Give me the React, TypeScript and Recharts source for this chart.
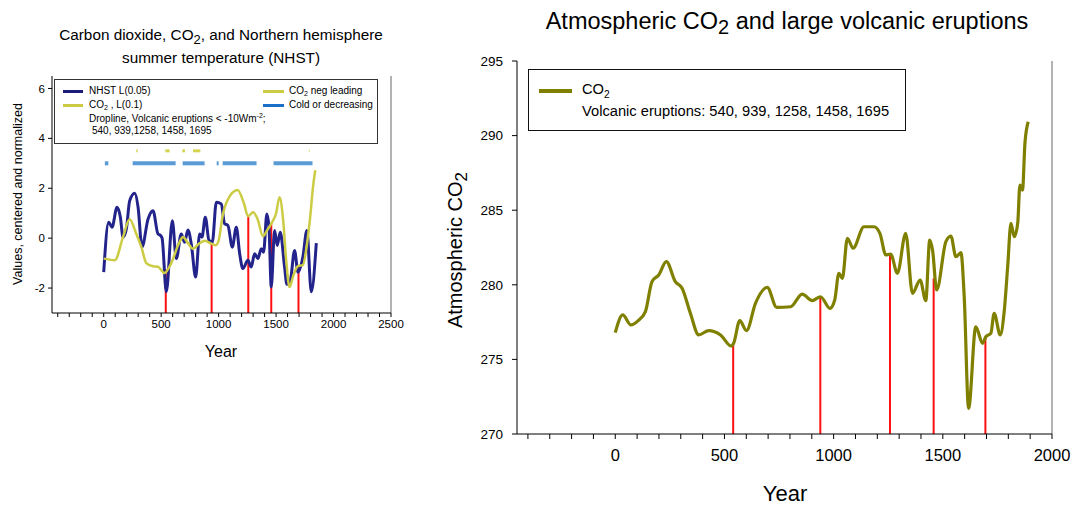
import React from "react";
import { LineChart, Line, XAxis, YAxis, ReferenceLine } from "recharts";

// NHST, loess L(0.05), centered and normalized
const nhstYears = [
  0, 43, 72, 116, 145, 168, 197, 226, 270, 299, 333, 386, 429, 472, 496, 508, 545, 597, 632, 675, 704, 733,
  762, 800, 835, 855, 884, 916, 945, 980, 1023, 1052, 1081, 1119, 1154, 1183, 1211, 1255, 1284, 1313, 1342,
  1371, 1391, 1420, 1438, 1458, 1487, 1510, 1536, 1574, 1594, 1623, 1661, 1690, 1733, 1768, 1806, 1850,
];
const nhstValues = [
  -1.36, 0.64, 0.44, 1.24, 0.84, 0.04, 0.37, 1.5, 1.8, 1.24, -0.36, 0.77, 1.1, 0.17, 0.1, 0.0, -2.15, 0.7,
  -0.82, 0.17, -0.16, 0.33, -0.23, -1.56, 0.17, 0.04, 0.84, -0.09, -0.16, 1.44, 1.37, 0.58, 0.51, -0.36, 0.44,
  -0.62, -1.22, -0.89, -1.16, -0.62, -0.82, -0.42, -0.56, 0.97, 0.44, -1.96, 0.31, -0.29, 0.24, -1.16, -1.85,
  -1.72, -0.49, -1.36, -0.76, 0.31, -2.15, -0.2,
];

// CO2, loess L(0.1), centered and normalized
const co2SmoothYears = [
  0, 50, 96, 168, 225, 284, 328, 371, 429, 472, 530, 588, 655, 690, 733, 777, 835, 878, 936, 975, 1000, 1035,
  1075, 1165, 1220, 1256, 1300, 1340, 1386, 1420, 1458, 1500, 1530, 1560, 1590, 1617, 1650, 1690, 1733, 1770,
  1800, 1820, 1841,
];
const co2SmoothValues = [
  -0.82, -0.86, -0.89, 0.04, 0.76, 0.17, -0.36, -1.0, -1.13, -1.15, -1.4, -1.0, -0.2, 0.05, -0.2, -0.42, -0.2,
  -0.1, -0.22, -0.28, -0.1, 0.9, 1.5, 1.93, 1.4, 0.88, 1.04, 0.75, 0.08, 0.3, 0.58, 1.0, 1.64, 0.8, -1.0, -1.96,
  -1.5, -1.12, -1.08, -0.2, 1.0, 2.0, 2.72,
];

// atmospheric CO2, ppm
const co2Years = [
  0, 34, 72, 105, 138, 168, 199, 234, 275, 306, 344, 382, 428, 482, 531, 543, 570, 601, 642, 696, 739, 803, 856,
  902, 940, 983, 1005, 1024, 1040, 1063, 1089, 1139, 1185, 1212, 1239, 1261, 1292, 1330, 1361, 1396, 1422, 1440,
  1453, 1472, 1514, 1537, 1560, 1583, 1598, 1618, 1651, 1682, 1697, 1720, 1735, 1763, 1781, 1797, 1812, 1827,
  1843, 1853, 1865, 1876, 1891,
];
const co2Values = [
  276.79, 277.98, 277.31, 277.6, 278.2, 280.21, 280.66, 281.55, 280.21, 279.77, 278.09, 276.64, 276.93, 276.64,
  275.9, 276.12, 277.6, 276.93, 278.76, 279.83, 278.49, 278.53, 279.38, 278.94, 279.2, 278.42, 278.98, 280.77,
  280.43, 283.12, 282.45, 283.89, 283.89, 283.45, 282.0, 282.06, 280.77, 283.45, 279.43, 280.32, 278.94, 283.0,
  282.33, 279.65, 282.89, 283.27, 281.88, 282.15, 279.2, 271.72, 277.19, 276.08, 276.52, 276.75, 278.09, 276.64,
  278.2, 281.21, 284.12, 283.22, 284.12, 286.69, 286.35, 289.48, 290.93,
];

// volcanic eruptions < -10 W/m2 and the dropline tops
const eruptionYears = [540, 939, 1258, 1458, 1695];
const eruptionSmoothTops = [-1.25, -0.2, 0.88, 0.58, -1.12];
const eruptionCo2Tops = [276.1, 279.2, 282.06, 280.43, 276.52];

// periods marked in the left panel
const coldStarts = [10, 252, 687, 983, 1035, 1478];
const coldEnds = [40, 626, 878, 1000, 1330, 1817];
const negLeadStarts = [284, 536, 684, 777, 1785];
const negLeadEnds = [296, 574, 707, 841, 1791];

const leftYTicks = [-2, 0, 2, 4, 6];
const rightYTicks = [270, 275, 280, 285, 290, 295];
const yearLabels = [0, 500, 1000, 1500, 2000, 2500];

const leftYearTicks = Array.from({ length: 30 }, (_, i) => -400 + i * 100);
const rightYearTicks = Array.from({ length: 25 }, (_, i) => -400 + i * 100);

const nhstData = nhstYears.map((year, i) => ({ year, value: nhstValues[i] }));
const co2SmoothData = co2SmoothYears.map((year, i) => ({ year, value: co2SmoothValues[i] }));
const co2Data = co2Years.map((year, i) => ({ year, value: co2Values[i] }));

const fmtYear = (v: number) => (yearLabels.includes(v) ? String(v) : "");

const FONT = '"Liberation Sans", Arial, sans-serif';

const abs = (left: number, top: number, extra: React.CSSProperties = {}): React.CSSProperties => ({
  position: "absolute",
  left,
  top,
  whiteSpace: "nowrap",
  ...extra,
});

const Sub = ({ children, size = "0.75em", drop = "-0.35em" }: any) => (
  <span style={{ fontSize: size, verticalAlign: drop, lineHeight: 0 }}>{children}</span>
);

function LeftPanel() {
  return (
    <>
      <div style={{ position: "absolute", left: 0, top: 0 }}>
        <LineChart width={420} height={370} margin={{ top: 76, right: 29, bottom: 27, left: 0 }}>
          <XAxis
            type="number"
            dataKey="year"
            domain={[-450, 2500]}
            ticks={leftYearTicks}
            interval={0}
            tickFormatter={fmtYear}
            tickSize={4}
            tickMargin={3}
            height={30}
            stroke="#000"
            tick={{ fontSize: 11.5, fill: "#000" }}
            allowDataOverflow
          />
          <XAxis
            xAxisId="top"
            orientation="top"
            type="number"
            domain={[-450, 2500]}
            ticks={leftYearTicks}
            mirror
            tick={false}
            height={0}
            tickSize={4}
            stroke="#000"
          />
          <YAxis
            type="number"
            domain={[-3, 6.5]}
            ticks={leftYTicks}
            width={52}
            tickSize={4}
            tickMargin={3}
            stroke="#000"
            tick={{ fontSize: 11.5, fill: "#000" }}
            allowDataOverflow
          />
          <ReferenceLine x={2500} stroke="#666" />
          {coldStarts.map((s, i) => (
            <ReferenceLine
              key={"c" + i}
              segment={[{ x: s, y: 3 }, { x: coldEnds[i], y: 3 }]}
              stroke="#5b9bd5"
              strokeWidth={4}
            />
          ))}
          {negLeadStarts.map((s, i) => (
            <ReferenceLine
              key={"n" + i}
              segment={[{ x: s, y: 3.5 }, { x: negLeadEnds[i], y: 3.5 }]}
              stroke="#d4d450"
              strokeWidth={3}
            />
          ))}
          {eruptionYears.map((yr, i) => (
            <ReferenceLine
              key={"e" + i}
              segment={[{ x: yr, y: -3 }, { x: yr, y: eruptionSmoothTops[i] }]}
              stroke="#ff1010"
              strokeWidth={2}
            />
          ))}
          <Line
            data={nhstData}
            dataKey="value"
            type="monotone"
            stroke="#23238c"
            strokeWidth={3}
            dot={false}
            isAnimationActive={false}
          />
          <Line
            data={co2SmoothData}
            dataKey="value"
            type="monotone"
            stroke="#cccc44"
            strokeWidth={2.5}
            dot={false}
            isAnimationActive={false}
          />
        </LineChart>
      </div>

      <div style={abs(221, 35, { fontSize: 15.3, transform: "translate(-50%, -50%)" })}>
        Carbon dioxide, CO<Sub size="0.85em" drop="-0.3em">2</Sub>, and Northern hemisphere
      </div>
      <div style={abs(221, 58, { fontSize: 15.3, transform: "translate(-50%, -50%)" })}>
        summer temperature (NHST)
      </div>
      <div
        style={abs(18, 194, {
          fontSize: 12.5,
          transform: "translate(-50%, -50%) rotate(-90deg)",
        })}
      >
        Values, centered and normalized
      </div>
      <div style={abs(221, 352, { fontSize: 16, transform: "translate(-50%, -50%)" })}>Year</div>

      {/* legend */}
      <div style={abs(54, 79, { width: 322, height: 63, border: "1px solid #333", background: "#fff", fontSize: 10 })}>
        <div style={abs(8, 10, { width: 20, height: 3, background: "#1c1c7a" })} />
        <div style={abs(34, 5)}>NHST L(0.05)</div>
        <div style={abs(8, 24, { width: 20, height: 3, background: "#cccc44" })} />
        <div style={abs(34, 19)}>
          CO<Sub size="0.7em">2</Sub> , L(0.1)
        </div>
        <div style={abs(34, 33)}>
          Dropline, Volcanic eruptions &lt; -10Wm<sup style={{ fontSize: "0.7em", lineHeight: 0 }}>-2</sup>;
        </div>
        <div style={abs(37, 45)}>540, 939,1258, 1458, 1695</div>
        <div style={abs(208, 10, { width: 21, height: 3, background: "#cccc44" })} />
        <div style={abs(234, 5)}>
          CO<Sub size="0.7em">2</Sub> neg leading
        </div>
        <div style={abs(208, 24, { width: 21, height: 3, background: "#1a6fc9" })} />
        <div style={abs(234, 19)}>Cold or decreasing</div>
      </div>
    </>
  );
}

function RightPanel() {
  return (
    <>
      <div style={{ position: "absolute", left: 440, top: 0 }}>
        <LineChart width={640} height={505} margin={{ top: 61, right: 28, bottom: 41, left: 0 }}>
          <XAxis
            type="number"
            dataKey="year"
            domain={[-450, 2000]}
            ticks={rightYearTicks}
            interval={0}
            tickFormatter={fmtYear}
            tickSize={5}
            tickMargin={10}
            height={30}
            stroke="#000"
            tick={{ fontSize: 16.5, fill: "#000" }}
            allowDataOverflow
          />
          <XAxis
            xAxisId="top"
            orientation="top"
            type="number"
            domain={[-450, 2000]}
            ticks={rightYearTicks}
            mirror
            tick={false}
            height={0}
            tickSize={5}
            stroke="#000"
          />
          <YAxis
            type="number"
            domain={[270, 295]}
            ticks={rightYTicks}
            width={77}
            tickSize={5}
            tickMargin={9}
            stroke="#000"
            tick={{ fontSize: 13.5, fill: "#000" }}
            allowDataOverflow
          />
          <ReferenceLine x={2000} stroke="#666" />
          {eruptionYears.map((yr, i) => (
            <ReferenceLine
              key={"e" + i}
              segment={[{ x: yr, y: 270 }, { x: yr, y: eruptionCo2Tops[i] }]}
              stroke="#ff1010"
              strokeWidth={2}
            />
          ))}
          <Line
            data={co2Data}
            dataKey="value"
            type="monotone"
            stroke="#808000"
            strokeWidth={3.2}
            dot={false}
            isAnimationActive={false}
          />
        </LineChart>
      </div>

      <div style={abs(787, 21, { fontSize: 23.5, transform: "translate(-50%, -50%)" })}>
        Atmospheric CO<Sub size="0.85em" drop="-0.3em">2</Sub> and large volcanic eruptions
      </div>
      <div
        style={abs(455, 250, {
          fontSize: 20,
          transform: "translate(-50%, -50%) rotate(-90deg)",
        })}
      >
        Atmospheric CO<Sub size="0.85em" drop="-0.3em">2</Sub>
      </div>
      <div style={abs(785, 494, { fontSize: 22, transform: "translate(-50%, -50%)" })}>Year</div>

      {/* legend */}
      <div style={abs(528, 69, { width: 376, height: 60, border: "1px solid #111", background: "#fff", fontSize: 14.7 })}>
        <div style={abs(10, 19, { width: 33, height: 4, background: "#808000" })} />
        <div style={abs(53, 11)}>
          CO<Sub size="0.7em">2</Sub>
        </div>
        <div style={abs(53, 33)}>Volcanic eruptions: 540, 939, 1258, 1458, 1695</div>
      </div>
    </>
  );
}

export default function App() {
  return (
    <div
      style={{
        position: "absolute",
        left: 0,
        top: 0,
        width: 1080,
        height: 505,
        background: "#fff",
        fontFamily: FONT,
        color: "#000",
        overflow: "hidden",
      }}
    >
      <LeftPanel />
      <RightPanel />
    </div>
  );
}
